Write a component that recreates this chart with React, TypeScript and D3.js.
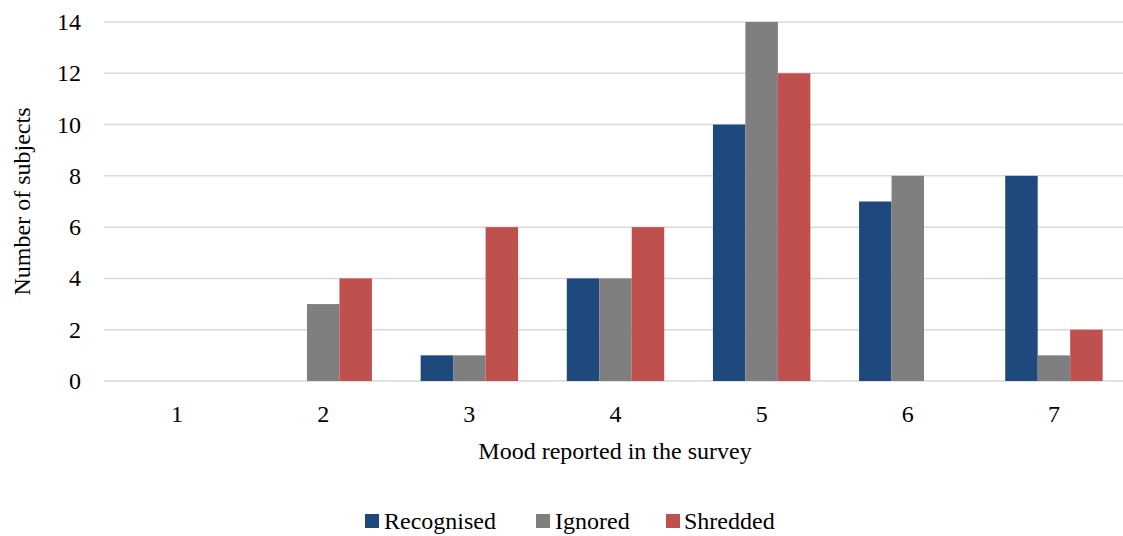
import React from "react";
import * as d3 from "d3";

const categories = ["1", "2", "3", "4", "5", "6", "7"];
const recognised = [0, 0, 1, 4, 10, 7, 8];
const ignored = [0, 3, 1, 4, 14, 8, 1];
const shredded = [0, 4, 6, 6, 12, 0, 2];
const seriesNames = ["Recognised", "Ignored", "Shredded"];
const seriesColors = ["#1F497D", "#7F7F7F", "#C0504D"];
const yTicks = [0, 2, 4, 6, 8, 10, 12, 14];

const W = 1123;
const H = 536;
const FONT = "Liberation Serif";

export default function App() {
  const margin = { left: 104, right: -4, top: 22, bottom: 155 };
  const x = d3
    .scaleBand<string>()
    .domain(categories)
    .range([margin.left, W - margin.right])
    .paddingInner(0)
    .paddingOuter(0);
  const y = d3
    .scaleLinear()
    .domain([0, 14])
    .range([H - margin.bottom, margin.top]);

  const series = [recognised, ignored, shredded];
  const bw = x.bandwidth();
  // three bars per group, gap equal to 150% of a bar width
  const barW = bw / 4.5;
  const inner = d3
    .scaleBand<number>()
    .domain([0, 1, 2])
    .range([barW * 0.75, barW * 0.75 + barW * 3]);

  const legendItems = [
    { x: 365, textX: 384 },
    { x: 536, textX: 555 },
    { x: 666, textX: 684 },
  ];

  return (
    <svg
      width={W}
      height={H}
      style={{ position: "absolute", left: 0, top: 0, background: "#fff" }}
    >
      {yTicks.map((t) => (
        <g key={t}>
          <line
            x1={margin.left}
            x2={W - margin.right}
            y1={y(t)}
            y2={y(t)}
            stroke="#D9D9D9"
            strokeWidth={1.5}
          />
          <text
            x={81}
            y={y(t) + 8}
            textAnchor="end"
            fontFamily={FONT}
            fontSize={24}
            fill="#000"
          >
            {t}
          </text>
        </g>
      ))}
      {series.map((vals, si) =>
        vals.map((v, ci) =>
          v > 0 ? (
            <rect
              key={`${si}-${ci}`}
              x={(x(categories[ci]) as number) + (inner(si) as number)}
              y={y(v)}
              width={inner.bandwidth()}
              height={y(0) - y(v)}
              fill={seriesColors[si]}
            />
          ) : null
        )
      )}
      {categories.map((c) => (
        <text
          key={c}
          x={(x(c) as number) + bw / 2}
          y={422}
          textAnchor="middle"
          fontFamily={FONT}
          fontSize={24}
          fill="#000"
        >
          {c}
        </text>
      ))}
      <text
        x={615}
        y={459}
        textAnchor="middle"
        fontFamily={FONT}
        fontSize={24}
        fill="#000"
      >
        Mood reported in the survey
      </text>
      <text
        transform={`translate(30, ${(y(0) + y(14)) / 2}) rotate(-90)`}
        textAnchor="middle"
        fontFamily={FONT}
        fontSize={24}
        fill="#000"
      >
        Number of subjects
      </text>
      {seriesNames.map((name, i) => (
        <g key={name}>
          <rect
            x={legendItems[i].x}
            y={514}
            width={14}
            height={14}
            fill={seriesColors[i]}
          />
          <text
            x={legendItems[i].textX}
            y={529}
            fontFamily={FONT}
            fontSize={24}
            fill="#000"
          >
            {name}
          </text>
        </g>
      ))}
    </svg>
  );
}
